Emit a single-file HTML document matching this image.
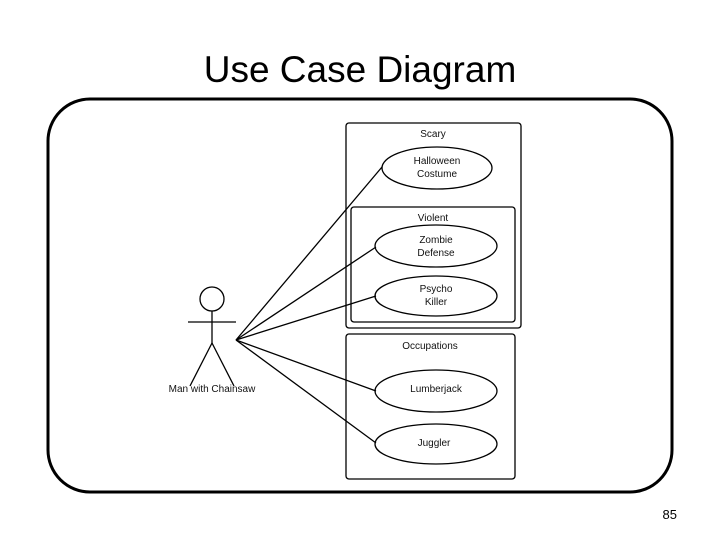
<!DOCTYPE html>
<html><head><style>body{margin:0;background:#fff}</style></head><body>
<svg width="720" height="540" viewBox="0 0 720 540" xmlns="http://www.w3.org/2000/svg" font-family="Liberation Sans, sans-serif">
<rect width="720" height="540" fill="#fff"/>
<text x="360" y="82" font-size="37" text-anchor="middle" fill="#000">Use Case Diagram</text>
<rect x="48" y="99" width="624" height="393" rx="42" fill="none" stroke="#000" stroke-width="3"/>
<text x="677" y="519" font-size="13" text-anchor="end">85</text>
<g fill="none" stroke="#000" stroke-width="1.3">
<rect x="346" y="123" width="175" height="205" rx="3"/>
<rect x="351" y="207" width="164" height="115" rx="3"/>
<rect x="346" y="334" width="169" height="145" rx="3"/>
<ellipse cx="437" cy="168" rx="55" ry="21"/>
<ellipse cx="436" cy="246" rx="61" ry="21"/>
<ellipse cx="436" cy="296" rx="61" ry="20"/>
<ellipse cx="436" cy="391" rx="61" ry="21"/>
<ellipse cx="436" cy="444" rx="61" ry="20"/>
<circle cx="212" cy="299" r="12"/>
<line x1="188" y1="322" x2="236" y2="322"/>
<line x1="212" y1="311" x2="212" y2="343"/>
<line x1="212" y1="343" x2="190" y2="386"/>
<line x1="212" y1="343" x2="234" y2="386"/>
<line x1="236" y1="340" x2="382" y2="167"/>
<line x1="236" y1="340" x2="376" y2="247"/>
<line x1="236" y1="340" x2="376" y2="296"/>
<line x1="236" y1="340" x2="376" y2="391"/>
<line x1="236" y1="340" x2="376" y2="443"/>
</g>
<g font-size="10" text-anchor="middle" fill="#111">
<text x="433" y="137">Scary</text>
<text x="437" y="164">Halloween</text>
<text x="437" y="177">Costume</text>
<text x="433" y="221">Violent</text>
<text x="436" y="243">Zombie</text>
<text x="436" y="256">Defense</text>
<text x="436" y="292">Psycho</text>
<text x="436" y="305">Killer</text>
<text x="430" y="349">Occupations</text>
<text x="436" y="392">Lumberjack</text>
<text x="434" y="446">Juggler</text>
<text x="212" y="392">Man with Chainsaw</text>
</g>
</svg>
</body></html>
